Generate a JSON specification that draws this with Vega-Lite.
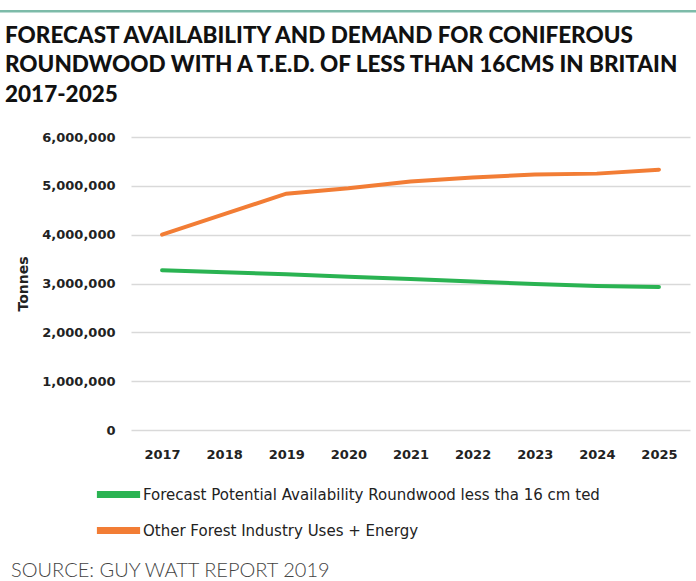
{
  "$schema": "https://vega.github.io/schema/vega-lite/v6.json",
  "padding": {"left": 0, "top": 10, "right": 0, "bottom": 0},
  "background": "white",
  "spacing": 25,
  "config": {"font": "DejaVu Sans"},
  "resolve": {"scale": {"color": "independent"}, "legend": {"color": "independent"}},
  "vconcat": [
    {
      "width": 706,
      "height": 2.5,
      "view": {"fill": "#7dbba9", "stroke": null},
      "title": {
        "text": ["FORECAST AVAILABILITY AND DEMAND FOR CONIFEROUS", "ROUNDWOOD WITH A T.E.D. OF LESS THAN 16CMS IN BRITAIN", "2017-2025"],
        "orient": "bottom",
        "anchor": "start",
        "frame": "group",
        "dx": 5,
        "offset": 12,
        "font": "Lato",
        "fontSize": 22.5,
        "fontWeight": 900,
        "lineHeight": 29.5,
        "color": "#111111"
      },
      "data": {"values": []},
      "mark": "rule",
      "encoding": {}
    },
    {
      "spacing": 15,
      "bounds": "full",
      "resolve": {"scale": {"color": "independent"}, "legend": {"color": "independent"}},
      "title": {
        "text": "SOURCE: GUY WATT REPORT 2019",
        "orient": "bottom",
        "anchor": "start",
        "frame": "bounds",
        "offset": 16,
        "dx": 11,
        "font": "Lato",
        "fontSize": 20,
        "fontWeight": 300,
        "color": "#444444"
      },
      "hconcat": [
        {
          "width": 1,
          "height": 1,
          "view": {"stroke": null},
          "data": {"values": []},
          "mark": "rule",
          "encoding": {}
        },
        {
          "width": 559,
          "height": 293,
          "view": {"stroke": null},
          "data": {"values": [
            {"year": "2017", "series": "Forecast Potential Availability Roundwood less tha 16 cm ted", "tonnes": 3270000},
            {"year": "2018", "series": "Forecast Potential Availability Roundwood less tha 16 cm ted", "tonnes": 3230000},
            {"year": "2019", "series": "Forecast Potential Availability Roundwood less tha 16 cm ted", "tonnes": 3190000},
            {"year": "2020", "series": "Forecast Potential Availability Roundwood less tha 16 cm ted", "tonnes": 3140000},
            {"year": "2021", "series": "Forecast Potential Availability Roundwood less tha 16 cm ted", "tonnes": 3090000},
            {"year": "2022", "series": "Forecast Potential Availability Roundwood less tha 16 cm ted", "tonnes": 3040000},
            {"year": "2023", "series": "Forecast Potential Availability Roundwood less tha 16 cm ted", "tonnes": 2990000},
            {"year": "2024", "series": "Forecast Potential Availability Roundwood less tha 16 cm ted", "tonnes": 2950000},
            {"year": "2025", "series": "Forecast Potential Availability Roundwood less tha 16 cm ted", "tonnes": 2930000},
            {"year": "2017", "series": "Other Forest Industry Uses + Energy", "tonnes": 4000000},
            {"year": "2018", "series": "Other Forest Industry Uses + Energy", "tonnes": 4420000},
            {"year": "2019", "series": "Other Forest Industry Uses + Energy", "tonnes": 4840000},
            {"year": "2020", "series": "Other Forest Industry Uses + Energy", "tonnes": 4950000},
            {"year": "2021", "series": "Other Forest Industry Uses + Energy", "tonnes": 5090000},
            {"year": "2022", "series": "Other Forest Industry Uses + Energy", "tonnes": 5170000},
            {"year": "2023", "series": "Other Forest Industry Uses + Energy", "tonnes": 5230000},
            {"year": "2024", "series": "Other Forest Industry Uses + Energy", "tonnes": 5250000},
            {"year": "2025", "series": "Other Forest Industry Uses + Energy", "tonnes": 5330000}
          ]},
          "mark": {"type": "line", "strokeWidth": 4, "strokeCap": "round"},
          "encoding": {
            "x": {
              "field": "year", "type": "ordinal",
              "scale": {"type": "point", "padding": 0.5},
              "axis": {"title": null, "labelAngle": 0, "domain": false, "ticks": false, "grid": false,
                       "labelPadding": 18, "labelFontSize": 13, "labelFontWeight": "bold", "labelColor": "#222222"}
            },
            "y": {
              "field": "tonnes", "type": "quantitative",
              "scale": {"domain": [0, 6000000], "nice": false},
              "axis": {"title": "Tonnes", "values": [0, 1000000, 2000000, 3000000, 4000000, 5000000, 6000000],
                       "format": ",.0f", "domain": false, "ticks": false, "labelPadding": 16,
                       "labelFontSize": 13, "labelFontWeight": "bold", "labelColor": "#222222",
                       "titleFontSize": 14, "titleFontWeight": "bold", "titleColor": "#222222", "titlePadding": 11,
                       "gridColor": "#d9d9d9", "gridWidth": 1.5}
            },
            "color": {
              "field": "series", "type": "nominal",
              "scale": {"domain": ["Forecast Potential Availability Roundwood less tha 16 cm ted", "Other Forest Industry Uses + Energy"],
                        "range": ["#2ab352", "#f27d35"]},
              "legend": {"orient": "none", "legendX": -34, "legendY": 336, "direction": "vertical", "title": null,
                         "symbolType": "M-1.2,0H1.2", "symbolSize": 1296, "symbolStrokeWidth": 7,
                         "labelFontSize": 15, "labelColor": "#222222", "labelOffset": 3, "labelLimit": 700,
                         "rowPadding": -17}
            }
          }
        }
      ]
    }
  ]
}
